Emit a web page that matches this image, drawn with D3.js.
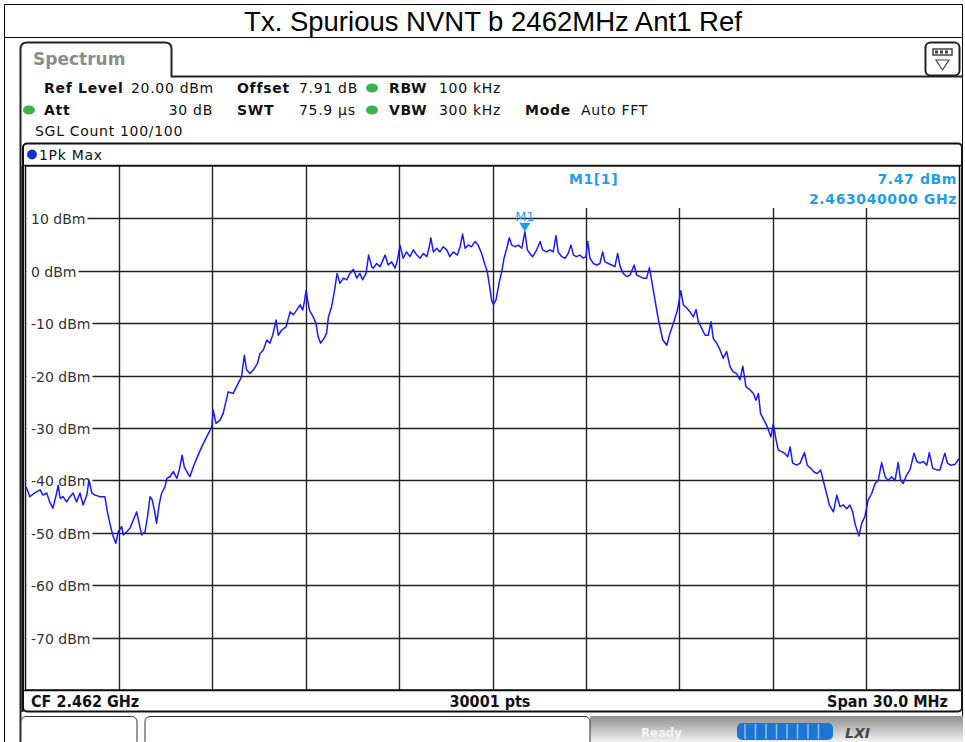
<!DOCTYPE html>
<html>
<head>
<meta charset="utf-8">
<script src="https://cdn.jsdelivr.net/npm/d3@7"></script>
<style>
  body { margin: 0; background: #fff; }
  svg { display: block; }
</style>
</head>
<body>
<script>
// Analyzer settings shown in the header
const TITLE = "Tx. Spurious NVNT b 2462MHz Ant1 Ref";
const CENTER_MHZ = 2462;
const SPAN_MHZ = 30;
const REF_LEVEL = 20;
const Y_BOTTOM = -80;
const Y_TICKS = [10, 0, -10, -20, -30, -40, -50, -60, -70];
const MARKER_OFFSET_MHZ = 1.04;
const MARKER_DBM = 7.47;

// Trace: offset from centre (MHz) and level (dBm)
const traceOffsetMHz = [
  -14.98, -14.86, -14.70, -14.53, -14.44, -14.32, -14.21, -14.12, -14.00, -13.95,
  -13.89, -13.79, -13.68, -13.57, -13.47, -13.36, -13.25, -13.15, -13.03, -12.96,
  -12.87, -12.77, -12.61, -12.45, -12.37, -12.29, -12.20, -12.10, -12.02, -11.91,
  -11.86, -11.75, -11.64, -11.54, -11.43, -11.35, -11.27, -11.16, -11.08, -11.00,
  -10.93, -10.84, -10.79, -10.70, -10.63, -10.52, -10.46, -10.36, -10.25, -10.14,
  -10.06, -9.97, -9.90, -9.82, -9.72, -9.61, -9.50, -9.34, -9.18,
  -9.07, -9.02, -8.97, -8.88, -8.75, -8.65, -8.49, -8.33, -8.17, -8.06,
  -7.97, -7.90, -7.79, -7.68, -7.55, -7.47, -7.36, -7.25, -7.15, -7.06,
  -6.95, -6.88, -6.77, -6.63, -6.50, -6.40, -6.29, -6.18, -6.10, -6.05,
  -5.99, -5.88, -5.76, -5.67, -5.60, -5.52, -5.41, -5.33, -5.27, -5.17,
  -5.09, -4.99, -4.90, -4.79, -4.68, -4.58, -4.47, -4.36, -4.26, -4.17,
  -4.06, -3.98,
  -3.88, -3.83, -3.72, -3.61, -3.45, -3.35, -3.24, -3.13, -3.06, -2.97,
  -2.87, -2.76, -2.65, -2.54, -2.43, -2.33, -2.22, -2.11, -2.04, -1.98,
  -1.90, -1.79, -1.69, -1.58, -1.47, -1.37, -1.26, -1.13, -1.04, -0.96,
  -0.88, -0.78, -0.67, -0.56, -0.46, -0.35, -0.24, -0.17, -0.10, -0.03,
  0.03, 0.11, 0.22, 0.30, 0.37, 0.46, 0.54, 0.62, 0.72, 0.83,
  0.94, 1.04, 1.12, 1.20, 1.29, 1.42, 1.53, 1.61, 1.74, 1.85,
  1.95, 2.04, 2.11, 2.22, 2.33, 2.43, 2.52, 2.60, 2.70, 2.81,
  2.92, 3.00, 3.06, 3.13, 3.24, 3.35, 3.45, 3.54, 3.61, 3.72,
  3.83, 3.93, 4.02, 4.10, 4.20, 4.31, 4.42, 4.55, 4.63, 4.74,
  4.84, 4.95, 5.04,
  5.11, 5.22, 5.33, 5.47, 5.60, 5.70, 5.81, 5.94, 6.05, 6.13,
  6.24, 6.34, 6.45, 6.54, 6.61, 6.72, 6.83, 6.93, 7.02, 7.09,
  7.20, 7.31, 7.41, 7.52, 7.63, 7.73, 7.84, 7.95, 8.04, 8.14,
  8.27, 8.38, 8.46, 8.54, 8.61, 8.72, 8.83, 8.94, 9.02, 9.11,
  9.18, 9.29, 9.40, 9.48, 9.56, 9.64, 9.77, 9.88, 10.02, 10.11,
  10.22, 10.33, 10.43, 10.54, 10.63, 10.70, 10.82, 10.95, 11.06, 11.16,
  11.27, 11.38, 11.48, 11.57, 11.64, 11.77, 11.86, 11.96, 12.07, 12.18,
  12.29, 12.39, 12.50, 12.61, 12.71, 12.82, 12.93, 13.03, 13.11, 13.19,
  13.30, 13.41, 13.54, 13.63, 13.73, 13.84, 13.95, 14.03, 14.14, 14.27,
  14.37, 14.53, 14.61, 14.72, 14.86, 14.99
];
const traceDbm = [
  -41.2, -43.1, -42.4, -41.8, -42.8, -42.4, -44.3, -45.3, -42.4, -40.9,
  -43.4, -43.1, -44.1, -43.1, -42.4, -44.1, -42.4, -44.7, -42.8, -39.9,
  -42.4, -42.8, -43.1, -43.1, -46.0, -48.2, -50.4, -52.0, -49.8, -48.8,
  -50.4, -49.8, -49.1, -47.6, -46.0, -48.2, -50.4, -49.8, -46.9, -43.1,
  -43.7, -46.3, -48.2, -44.4, -42.5, -41.2, -39.6, -39.3, -38.3, -39.6,
  -38.0, -35.2, -37.4, -38.3, -39.3, -37.4, -35.8, -33.6, -31.7,
  -30.4, -29.8, -26.6, -29.1, -28.5, -27.2, -23.1, -23.4, -21.5, -20.2,
  -16.1, -18.9, -19.6, -18.9, -17.7, -15.8, -15.1, -13.2, -13.8, -12.3,
  -9.4, -12.3, -11.3, -10.7, -7.8, -8.4, -7.5, -6.5, -7.5, -6.2,
  -3.8, -7.5, -8.8, -10.0, -12.6, -13.8, -12.9, -11.9, -8.8, -6.9,
  -4.3, -0.5, -2.4, -1.4, -1.7, -0.5, 0.3, -1.4, -0.5, -1.7,
  -0.5, 3.0,
  0.8, 0.5, 1.4, 0.8, 3.0, 1.1, 1.7, 0.5, 1.9, 4.9,
  2.4, 3.6, 2.7, 4.0, 3.0, 2.4, 3.3, 2.7, 4.3, 6.3,
  3.6, 4.3, 3.6, 4.6, 4.0, 2.7, 3.6, 3.0, 4.6, 7.0,
  4.3, 4.9, 4.6, 5.6, 4.9, 3.3, 1.1, -0.1, -2.7, -5.6,
  -6.4, -5.6, -2.1, -0.1, 2.4, 4.3, 6.3, 4.9, 4.6, 4.9,
  4.3, 7.47, 4.0, 3.3, 2.7, 4.0, 5.6, 4.0, 3.6, 4.0,
  3.6, 6.7, 3.6, 2.7, 2.4, 3.3, 4.9, 3.0, 2.7, 3.0,
  2.4, 2.7, 5.6, 2.4, 1.4, 1.1, 1.4, 3.6, 1.7, 1.4,
  1.1, 0.8, 3.3, 0.8, -0.5, -1.1, -0.8, 1.1, -0.8, -1.1,
  -1.4, -1.4, 0.6,
  -1.8, -5.6, -9.4, -13.2, -14.2, -11.9, -10.0, -7.5, -3.8, -6.5,
  -7.1, -7.8, -8.8, -7.4, -9.7, -11.0, -12.3, -12.3, -9.7, -12.9,
  -13.8, -15.1, -16.7, -15.4, -18.3, -19.3, -19.6, -20.8, -18.2, -22.1,
  -22.7, -23.4, -24.7, -23.4, -27.2, -28.5, -29.8, -31.7, -29.2, -32.3,
  -34.2, -34.5, -34.9, -35.5, -33.6, -36.7, -37.1, -36.7, -34.7, -37.1,
  -37.7, -38.4, -38.7, -38.0, -40.2, -41.8, -44.7, -46.0, -42.8, -45.0,
  -44.7, -45.4, -44.7, -46.0, -48.2, -50.6, -48.2, -46.9, -43.7, -42.5,
  -40.6, -40.0, -36.6, -39.3, -40.0, -39.3, -40.0, -36.6, -40.0, -40.6,
  -39.0, -38.0, -34.8, -36.4, -36.7, -36.4, -37.1, -34.7, -37.7, -38.0,
  -38.0, -34.8, -36.7, -37.1, -36.9, -35.8
];

/* Dimensions */
const WIDTH = 965;
const HEIGHT = 742;
const PLOT = { left: 25.5, right: 959.5, top: 166, bottom: 690 };
const FONT = "'DejaVu Sans', Verdana, sans-serif";
const MARKER_BLUE = "#1f9ee6";
const TRACE_BLUE = "#1a1aff";

const x = d3.scaleLinear()
  .domain([CENTER_MHZ - SPAN_MHZ/2, CENTER_MHZ + SPAN_MHZ/2])
  .range([PLOT.left, PLOT.right]);
const y = d3.scaleLinear()
  .domain([Y_BOTTOM, REF_LEVEL])
  .range([PLOT.bottom, PLOT.top]);

const svg = d3.select("body").append("svg")
  .attr("width", WIDTH)
  .attr("height", HEIGHT)
  .style("font-family", FONT);

// Outer frame + title row
svg.append("path")
  .attr("d", "M4.5,742 V4.5 H962.5 V742 M4.5,37.5 H962.5")
  .attr("fill", "none").attr("stroke", "#000").attr("stroke-width", 1);
svg.append("text")
  .attr("x", 493).attr("y", 31)
  .attr("text-anchor", "middle")
  .style("font-family", "'Liberation Sans', Arial, sans-serif")
  .style("font-size", "27.5px")
  .text(TITLE);

// Spectrum tab and the line running right from it
svg.append("path")
  .attr("d", "M20.5,742 V49 Q20.5,42.5 27,42.5 H165 Q171.5,42.5 171.5,49 V76.5 H962")
  .attr("fill", "none").attr("stroke", "#222").attr("stroke-width", 2);
svg.append("text")
  .attr("x", 33).attr("y", 65)
  .style("font-size", "17px").style("font-weight", "bold")
  .attr("fill", "#8c8c8c")
  .text("Spectrum");

// Little menu icon at top right
const ICON = svg.append("g").attr("transform", "translate(925,42)");
ICON.append("rect")
  .attr("x", 0.5).attr("y", 0.5).attr("width", 34).attr("height", 33).attr("rx", 5)
  .attr("fill", "#fff").attr("stroke", "#222").attr("stroke-width", 2);
ICON.append("rect")
  .attr("x", 8).attr("y", 7).attr("width", 19).attr("height", 6)
  .attr("fill", "#fff").attr("stroke", "#444").attr("stroke-width", 1.5);
[13, 18, 23].forEach(function(d) {
  ICON.append("rect").attr("x", d - 3).attr("y", 8.5).attr("width", 3).attr("height", 3).attr("fill", "#444");
});
ICON.append("path")
  .attr("d", "M11,18 H24 L17.5,28 Z")
  .attr("fill", "none").attr("stroke", "#444").attr("stroke-width", 1.2);

// Settings rows
const settings = [
  { x: 44, y: 93, t: "Ref Level", b: true },
  { x: 131, y: 93, t: "20.00 dBm" },
  { x: 237, y: 93, t: "Offset", b: true },
  { x: 299, y: 93, t: "7.91 dB" },
  { x: 389, y: 93, t: "RBW", b: true },
  { x: 439, y: 93, t: "100 kHz" },
  { x: 44, y: 115, t: "Att", b: true },
  { x: 213, y: 115, t: "30 dB", end: true },
  { x: 237, y: 115, t: "SWT", b: true },
  { x: 299, y: 115, t: "75.9 µs" },
  { x: 389, y: 115, t: "VBW", b: true },
  { x: 439, y: 115, t: "300 kHz" },
  { x: 525, y: 115, t: "Mode", b: true },
  { x: 581, y: 115, t: "Auto FFT" },
  { x: 35, y: 136, t: "SGL Count 100/100" }
];
svg.selectAll("text.setting")
  .data(settings)
  .enter()
  .append("text")
  .attr("class", "setting")
  .attr("x", function(d) { return d.x; })
  .attr("y", function(d) { return d.y; })
  .attr("text-anchor", function(d) { return d.end ? "end" : "start"; })
  .style("font-size", "14px")
  .style("letter-spacing", "0.7px")
  .style("font-weight", function(d) { return d.b ? "bold" : "normal"; })
  .attr("fill", "#111")
  .text(function(d) { return d.t; });
// green status dots
[[372, 88], [29, 110], [372, 110]].forEach(function(p) {
  svg.append("ellipse")
    .attr("cx", p[0]).attr("cy", p[1]).attr("rx", 6).attr("ry", 4.5)
    .attr("fill", "#3cb24a");
});

// Diagram panel
svg.append("rect")
  .attr("x", 23).attr("y", 143.5).attr("width", 939).attr("height", 568)
  .attr("rx", 4)
  .attr("fill", "#fff").attr("stroke", "#111").attr("stroke-width", 2);
svg.append("line")
  .attr("x1", 24).attr("x2", 961).attr("y1", 165.5).attr("y2", 165.5)
  .attr("stroke", "#222").attr("stroke-width", 1.5);
svg.append("circle")
  .attr("cx", 32).attr("cy", 154.5).attr("r", 4.5)
  .attr("fill", "#1030e0").attr("stroke", "#0a1a80").attr("stroke-width", 0.8);
svg.append("text")
  .attr("x", 39).attr("y", 159.5)
  .style("font-size", "14px").style("letter-spacing", "0.7px").attr("fill", "#111")
  .text("1Pk Max");

// Plot frame
svg.append("rect")
  .attr("x", PLOT.left).attr("y", PLOT.top)
  .attr("width", PLOT.right - PLOT.left).attr("height", PLOT.bottom - PLOT.top)
  .attr("fill", "#fff").attr("stroke", "#111").attr("stroke-width", 1.5);
svg.append("line")
  .attr("x1", 22.5).attr("x2", 22.5).attr("y1", 166).attr("y2", 712)
  .attr("stroke", "#111").attr("stroke-width", 2);

// Vertical grid, one per division; lines behind the marker text start lower
const GRID = svg.append("g").attr("stroke", "#222").attr("stroke-width", 1.4);
const xDivs = d3.range(1, 10).map(function(i) { return CENTER_MHZ - SPAN_MHZ/2 + i*SPAN_MHZ/10; });
GRID.selectAll("line.v")
  .data(xDivs)
  .enter()
  .append("line")
  .attr("class", "v")
  .attr("x1", function(d) { return Math.round(x(d)) + 0.5; })
  .attr("x2", function(d) { return Math.round(x(d)) + 0.5; })
  .attr("y1", function(d) { return d > CENTER_MHZ + 2 ? 208 : PLOT.top; })
  .attr("y2", PLOT.bottom);
GRID.selectAll("line.h")
  .data(Y_TICKS)
  .enter()
  .append("line")
  .attr("class", "h")
  .attr("x1", PLOT.left).attr("x2", PLOT.right)
  .attr("y1", function(d) { return Math.round(y(d)) + 0.5; })
  .attr("y2", function(d) { return Math.round(y(d)) + 0.5; });

// Y labels sit on the grid line, the line starts right after them
const LABELS = svg.append("g");
LABELS.selectAll("g")
  .data(Y_TICKS)
  .enter()
  .append("g")
  .each(function(d) {
    const g = d3.select(this);
    const t = g.append("text")
      .attr("x", 31).attr("y", Math.round(y(d)) + 5.5)
      .style("font-size", "14px").attr("fill", "#333")
      .text(d + " dBm");
    const bb = t.node().getBBox();
    g.insert("rect", "text")
      .attr("x", PLOT.left + 1).attr("y", Math.round(y(d)) - 2)
      .attr("width", bb.x + bb.width + 1 - PLOT.left).attr("height", 5)
      .attr("fill", "#fff");
  });

// Trace
const traceData = d3.zip(traceOffsetMHz, traceDbm);
const line = d3.line()
  .x(function(d) { return x(CENTER_MHZ + d[0]); })
  .y(function(d) { return y(d[1]); });
svg.append("path")
  .datum(traceData)
  .attr("d", line)
  .attr("fill", "none")
  .attr("stroke", TRACE_BLUE)
  .attr("stroke-width", 1.5)
  .attr("stroke-linejoin", "round");

// Marker M1
const MX = x(CENTER_MHZ + MARKER_OFFSET_MHZ);
const MY = y(MARKER_DBM);
svg.append("path")
  .attr("d", "M" + (MX - 5.5) + "," + (MY - 9) + " h11 l-5.5,9 Z")
  .attr("fill", MARKER_BLUE);
svg.append("text")
  .attr("x", MX).attr("y", MY - 11)
  .attr("text-anchor", "middle")
  .style("font-size", "13px").attr("fill", MARKER_BLUE)
  .text("M1");

// Marker readout
const readout = [
  { x: 569, y: 184, t: "M1[1]", a: "start" },
  { x: 957, y: 184, t: MARKER_DBM.toFixed(2) + " dBm", a: "end" },
  { x: 957, y: 204, t: ((CENTER_MHZ + MARKER_OFFSET_MHZ)/1000).toFixed(9) + " GHz", a: "end" }
];
svg.selectAll("text.readout")
  .data(readout)
  .enter()
  .append("text")
  .attr("class", "readout")
  .attr("x", function(d) { return d.x; })
  .attr("y", function(d) { return d.y; })
  .attr("text-anchor", function(d) { return d.a; })
  .style("font-size", "14px").style("font-weight", "bold")
  .style("letter-spacing", "0.6px")
  .attr("fill", MARKER_BLUE)
  .text(function(d) { return d.t; });

// Footer of the diagram
svg.append("line")
  .attr("x1", 24).attr("x2", 961).attr("y1", 690.5).attr("y2", 690.5)
  .attr("stroke", "#111").attr("stroke-width", 1.5);
const footer = [
  { x: 31, t: "CF " + (CENTER_MHZ/1000).toFixed(3) + " GHz", a: "start" },
  { x: 490, t: "30001 pts", a: "middle" },
  { x: 948, t: "Span " + SPAN_MHZ.toFixed(1) + " MHz", a: "end" }
];
svg.selectAll("text.footer")
  .data(footer)
  .enter()
  .append("text")
  .attr("class", "footer")
  .attr("x", function(d) { return d.x; })
  .attr("y", 707)
  .attr("text-anchor", function(d) { return d.a; })
  .style("font-family", "'DejaVu Sans Condensed', 'DejaVu Sans', sans-serif")
  .style("font-size", "16px").style("font-weight", "bold")
  .style("font-stretch", "condensed")
  .attr("fill", "#111")
  .text(function(d) { return d.t; });

// Status bar at the very bottom
const grad = svg.append("defs").append("linearGradient")
  .attr("id", "statusGrad").attr("x1", 0).attr("y1", 0).attr("x2", 0).attr("y2", 1);
grad.append("stop").attr("offset", "0%").attr("stop-color", "#8f8f8f");
grad.append("stop").attr("offset", "100%").attr("stop-color", "#f2f2f2");
svg.append("rect")
  .attr("x", 590).attr("y", 716).attr("width", 373).attr("height", 26)
  .attr("fill", "url(#statusGrad)");
svg.append("rect")
  .attr("x", 21).attr("y", 716.5).attr("width", 116).attr("height", 30).attr("rx", 5)
  .attr("fill", "#fff").attr("stroke", "#333").attr("stroke-width", 1);
svg.append("rect")
  .attr("x", 145).attr("y", 716.5).attr("width", 445).attr("height", 30).attr("rx", 5)
  .attr("fill", "#fff").attr("stroke", "#333").attr("stroke-width", 1);
svg.append("text")
  .attr("x", 641).attr("y", 737)
  .style("font-size", "13px").style("font-weight", "bold").style("font-stretch", "condensed")
  .attr("fill", "#f4f4f4")
  .text("Ready");
svg.append("rect")
  .attr("x", 737).attr("y", 723).attr("width", 96).attr("height", 17).attr("rx", 5)
  .attr("fill", "#1a76d2");
d3.range(8).forEach(function(i) {
  svg.append("line")
    .attr("x1", 745 + i*10.5).attr("x2", 745 + i*10.5).attr("y1", 724).attr("y2", 739)
    .attr("stroke", "#8cc0f0").attr("stroke-width", 1.5);
});
svg.append("text")
  .attr("x", 845).attr("y", 738)
  .style("font-size", "14px").style("font-weight", "bold").style("font-style", "italic")
  .attr("fill", "#444")
  .text("LXI");
</script>
</body>
</html>
